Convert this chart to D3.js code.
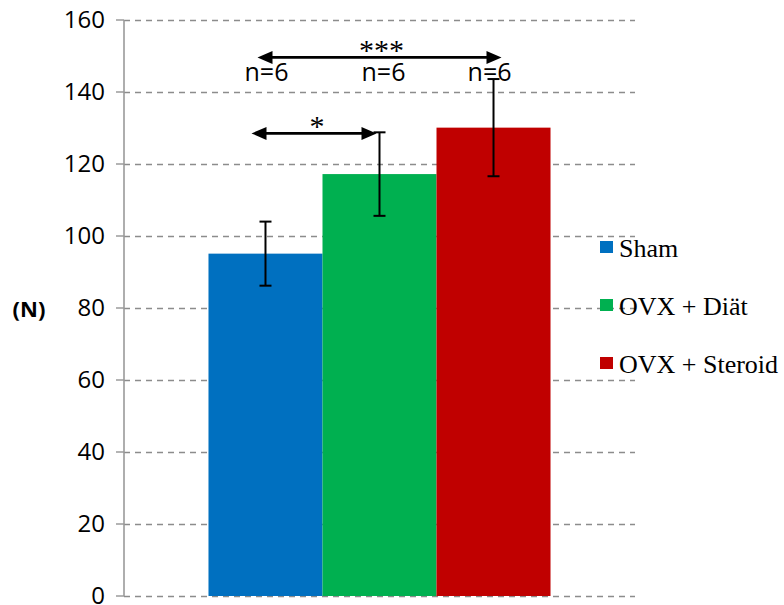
<!DOCTYPE html>
<html>
<head>
<meta charset="utf-8">
<script src="https://cdn.jsdelivr.net/npm/d3@7/dist/d3.min.js"></script>
<style>
  html, body { margin: 0; padding: 0; background: #fff; }
  svg { display: block; }
</style>
</head>
<body>
<svg id="chart" width="784" height="605"></svg>
<script>
// Group names, mean force (N) and error (±)
const groups = ["Sham", "OVX + Diät", "OVX + Steroid"];
const means = [95.1, 117.2, 130.1];
const errors = [8.9, 11.6, 13.5];
const nLabels = ["n=6", "n=6", "n=6"];
const colors = ["#0070C0", "#00B050", "#C00000"];
const yTicks = [0, 20, 40, 60, 80, 100, 120, 140, 160];

// Significance arrows between groups (value = height on the force axis)
const sigFrom = [0, 0];
const sigTo = [1, 2];
const sigLevel = [128.5, 149.6];
const sigText = ["*", "***"];

const svg = d3.select("#chart");
const margin = { left: 124, right: 149, top: 20, bottom: 9 };
const W = 784, H = 605;

const y = d3.scaleLinear().domain([0, 160]).range([H - margin.bottom, margin.top]);
const xCat = d3.scaleBand().domain(["all"]).range([margin.left, W - margin.right])
  .paddingInner(0).paddingOuter(0.247);
const x = d3.scaleBand().domain(groups).range([xCat("all"), xCat("all") + xCat.bandwidth()])
  .padding(0);

const sans = "'Open Sans', 'Liberation Sans', sans-serif";
const serif = "'Liberation Serif', 'Times New Roman', serif";

// Dashed gridlines (including the zero line)
const yAxis = d3.axisLeft(y).tickValues(yTicks).tickSize(-(W - margin.right - margin.left)).tickSizeOuter(0).tickPadding(19);
const gAxis = svg.append("g").attr("transform", `translate(${margin.left},0)`).call(yAxis);
gAxis.select(".domain").remove();
gAxis.selectAll(".tick line")
  .attr("stroke", "#8c8c8c").attr("stroke-width", 1.3).attr("stroke-dasharray", "6,5");
gAxis.selectAll(".tick text")
  .attr("font-family", sans).attr("font-size", 24).attr("fill", "#000");

// Outer tick marks
svg.append("g").selectAll("line").data(yTicks).join("line")
  .attr("x1", margin.left - 8).attr("x2", margin.left)
  .attr("y1", d => y(d)).attr("y2", d => y(d))
  .attr("stroke", "#8c8c8c").attr("stroke-width", 1.3);

// Bars
svg.append("g").selectAll("rect").data(groups).join("rect")
  .attr("x", d => x(d)).attr("width", x.bandwidth())
  .attr("y", (d, i) => y(means[i])).attr("height", (d, i) => y(0) - y(means[i]))
  .attr("fill", (d, i) => colors[i]);

// Vertical axis line
svg.append("line")
  .attr("x1", margin.left).attr("x2", margin.left)
  .attr("y1", y(160)).attr("y2", y(0))
  .attr("stroke", "#9a9a9a").attr("stroke-width", 1.6);

// Error bars
const eb = svg.append("g").attr("stroke", "#000").attr("stroke-width", 2);
groups.forEach((g, i) => {
  const cx = x(g) + x.bandwidth() / 2;
  const hi = y(means[i] + errors[i]), lo = y(means[i] - errors[i]);
  eb.append("line").attr("x1", cx).attr("x2", cx).attr("y1", hi).attr("y2", lo);
  eb.append("line").attr("x1", cx - 6).attr("x2", cx + 6).attr("y1", hi).attr("y2", hi);
  eb.append("line").attr("x1", cx - 6).attr("x2", cx + 6).attr("y1", lo).attr("y2", lo);
});

// Sample size labels
svg.append("g").selectAll("text").data(nLabels).join("text")
  .attr("x", (d, i) => x(groups[i]) + x.bandwidth() / 2 + [1, 4, -4][i])
  .attr("y", 81)
  .attr("text-anchor", "middle")
  .attr("font-family", sans).attr("font-size", 25).attr("fill", "#000")
  .text(d => d);

// Double-headed significance arrows
const arrowInset = [[-14, -3], [-8, 8]];
const head = 15, half = 6.5;
const ag = svg.append("g");
sigText.forEach((t, k) => {
  const x1 = x(groups[sigFrom[k]]) + x.bandwidth() / 2 + arrowInset[k][0];
  const x2 = x(groups[sigTo[k]]) + x.bandwidth() / 2 + arrowInset[k][1];
  const yy = y(sigLevel[k]);
  ag.append("line").attr("x1", x1 + head - 2).attr("x2", x2 - head + 2)
    .attr("y1", yy).attr("y2", yy).attr("stroke", "#000").attr("stroke-width", 2.8);
  ag.append("path").attr("d", `M${x1},${yy} L${x1 + head},${yy - half} L${x1 + head},${yy + half} Z`).attr("fill", "#000");
  ag.append("path").attr("d", `M${x2},${yy} L${x2 - head},${yy - half} L${x2 - head},${yy + half} Z`).attr("fill", "#000");
  ag.append("text")
    .attr("x", (x1 + x2) / 2 + (k === 0 ? 3 : 2))
    .attr("y", yy + 3)
    .attr("text-anchor", "middle")
    .attr("font-family", serif).attr("font-size", 30).attr("fill", "#000")
    .text(t);
});

// Axis title
svg.append("text")
  .attr("x", 29).attr("y", y(80) + 1)
  .attr("dy", "0.35em")
  .attr("text-anchor", "middle")
  .attr("font-family", sans).attr("font-weight", "bold").attr("font-size", 22)
  .attr("fill", "#000")
  .text("(N)");

// Legend
const lg = svg.append("g").attr("transform", "translate(600,247)");
const rows = lg.selectAll("g").data(groups).join("g")
  .attr("transform", (d, i) => `translate(0,${i * 58})`);
rows.append("rect").attr("x", 0).attr("y", -6).attr("width", 13).attr("height", 12)
  .attr("fill", (d, i) => colors[i]);
rows.append("text").attr("x", 19).attr("y", 10)
  .attr("font-family", serif).attr("font-size", 26).attr("fill", "#000")
  .text(d => d);
</script>
</body>
</html>
